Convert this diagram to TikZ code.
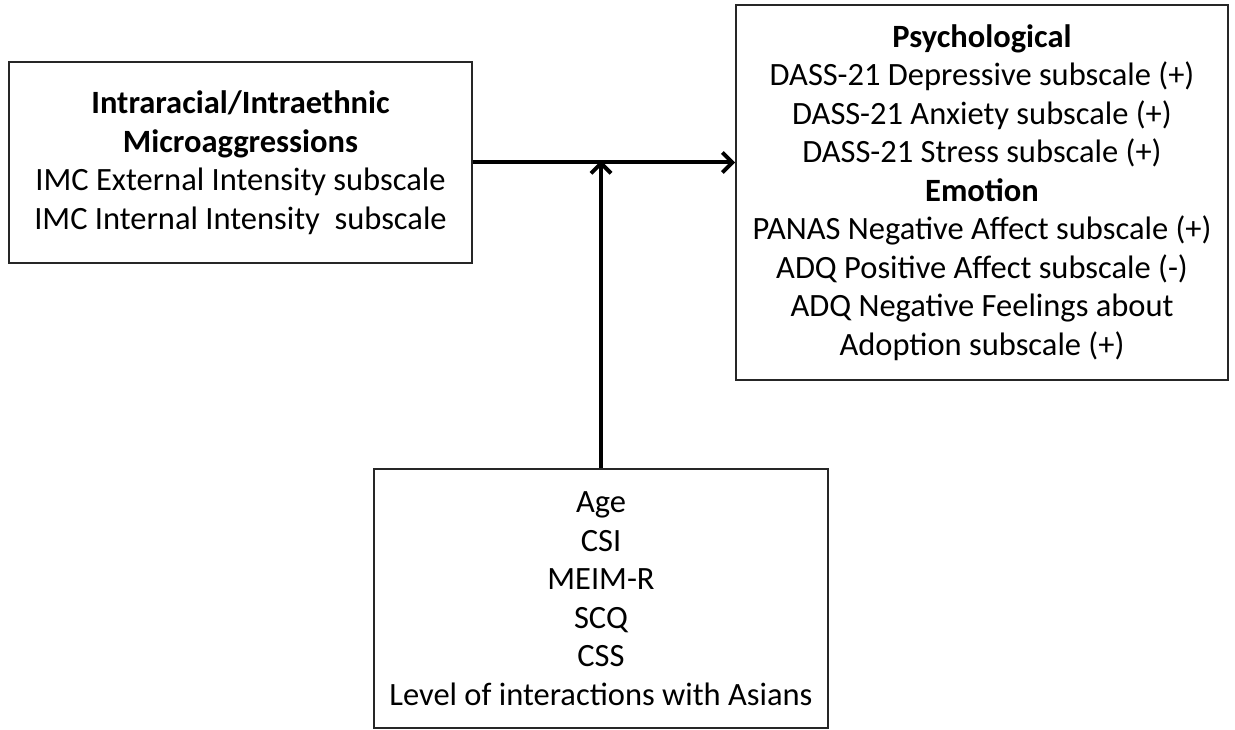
\documentclass[tikz,border=0pt]{standalone}
\usepackage{fontspec}
\setmainfont{Carlito}
\usepackage{tikz}
\usetikzlibrary{arrows.meta}

\begin{document}
\begin{tikzpicture}[x=1pt,y=-1pt,
    box/.style={shape=rectangle, draw=black!85, line width=1.6pt, align=center,
      inner sep=0pt, font=\fontsize{32.5}{38.5}\selectfont},
    conn/.style={line width=4pt, -{Straight Barb[length=10pt,width=20pt]}}]
    \useasboundingbox (0,0) rectangle (1235,730);

    \node[box, minimum width=463pt, minimum height=201pt] (micro) at (240.5,162.5)
      {\textbf{Intraracial/Intraethnic}\\ \textbf{Microaggressions}\\
       IMC External Intensity subscale\\ IMC Internal Intensity~ subscale};

    \node[box, minimum width=492pt, minimum height=375pt] (outcome) at (982,192.5)
      {\textbf{Psychological}\\ DASS-21 Depressive subscale (+)\\
       DASS-21 Anxiety subscale (+)\\ DASS-21 Stress subscale (+)\\
       \textbf{Emotion}\\ PANAS Negative Affect subscale (+)\\
       ADQ Positive Affect subscale (-)\\ ADQ Negative Feelings about\\
       Adoption subscale (+)};

    \node[box, minimum width=454pt, minimum height=259pt] (moder) at (601,598.5)
      {Age\\ CSI\\ MEIM-R\\ SCQ\\ CSS\\ Level of interactions with Asians};

    \draw[conn] (micro.east) -- (micro.east -| outcome.west);
    \draw[conn] (moder.north) -- ([yshift=2pt]moder.north |- micro.east);
  \end{tikzpicture}
\end{document}
